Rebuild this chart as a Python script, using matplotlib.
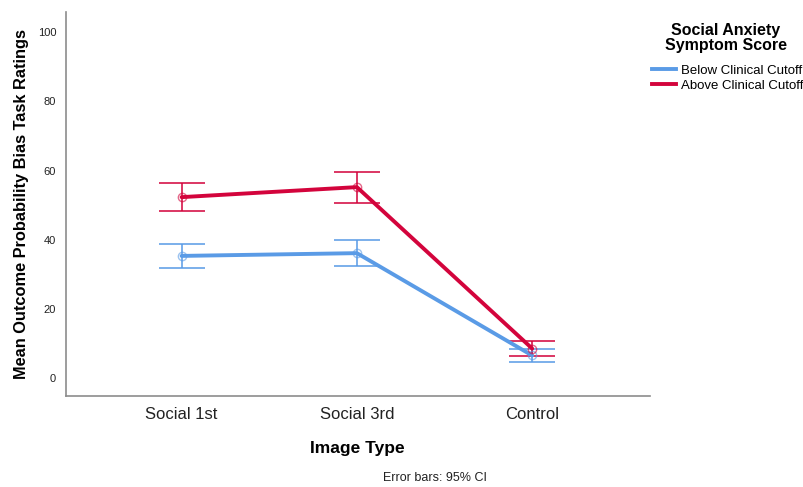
import matplotlib
matplotlib.use("Agg")
import matplotlib.pyplot as plt
from matplotlib.lines import Line2D

plt.rcParams['font.family'] = ['Liberation Sans', 'DejaVu Sans']

categories = ["Social 1st", "Social 3rd", "Control"]
groups = ["Below Clinical Cutoff", "Above Clinical Cutoff"]
below_mean = [35.3, 36.1, 6.5]
below_lo = [31.8, 32.4, 4.6]
below_hi = [38.7, 39.9, 8.4]
above_mean = [52.3, 55.2, 8.5]
above_lo = [48.3, 50.6, 6.4]
above_hi = [56.4, 59.5, 10.7]
yticks = [0, 20, 40, 60, 80, 100]

colors = ["#5A9BE6", "#D3043C"]

fig = plt.figure(figsize=(8.04, 4.87), dpi=100)
ax = fig.add_axes([0.082, 0.187, 0.726, 0.788])

x = list(range(len(categories)))
series = [(below_mean, below_lo, below_hi), (above_mean, above_lo, above_hi)]
for (m, lo, hi), c in zip(series, colors):
    yerr = [[mi - l for mi, l in zip(m, lo)], [h - mi for mi, h in zip(m, hi)]]
    ax.errorbar(x, m, yerr=yerr, fmt='none', ecolor=c, elinewidth=1.4,
                capsize=16.5, capthick=1.4, alpha=0.8, zorder=2)
    ax.plot(x, m, color=c, lw=2.8, zorder=3, solid_capstyle='round')
    ax.plot(x, m, 'o', ms=6, mfc='none', mec=c, mew=1.0, alpha=0.6, zorder=4)

ax.set_xlim(-0.66, 2.67)
ax.set_ylim(-5.2, 105.8)
ax.set_xticks(x)
ax.set_xticklabels(categories, fontsize=12, color='#222222')
ax.set_yticks(yticks)
ax.set_yticklabels([str(v) for v in yticks], fontsize=8, color='#222222')
ax.tick_params(axis='both', length=0)
ax.tick_params(axis='x', pad=8)
ax.tick_params(axis='y', pad=7)

for s in ['top', 'right']:
    ax.spines[s].set_visible(False)
for s in ['left', 'bottom']:
    ax.spines[s].set_color('#8c8c8c')
    ax.spines[s].set_linewidth(1.2)

ax.set_ylabel("Mean Outcome Probability Bias Task Ratings", fontsize=11.8,
              fontweight='bold')
ax.yaxis.set_label_coords(-0.064, 0.5)
ax.set_xlabel("Image Type", fontsize=12.5, fontweight='bold', labelpad=14)

fig.text(0.5415, 0.018, "Error bars: 95% CI", fontsize=9, ha='center', va='center',
         color='#222222')

# legend title drawn as its own centered block above the entries
fig.text(0.903, 0.922, "Social Anxiety\nSymptom Score", fontsize=11.5,
         fontweight='bold', ha='center', va='center', multialignment='center',
         linespacing=1.05)

handles = [Line2D([0], [0], color=c, lw=2.8) for c in colors]
leg = fig.legend(handles, groups, loc='upper left', bbox_to_anchor=(0.811, 0.868),
                 frameon=False, fontsize=9.5, handlelength=1.85,
                 handletextpad=0.35, labelspacing=0.25, borderaxespad=0,
                 borderpad=0)

fig.savefig("out.png", dpi=100)
